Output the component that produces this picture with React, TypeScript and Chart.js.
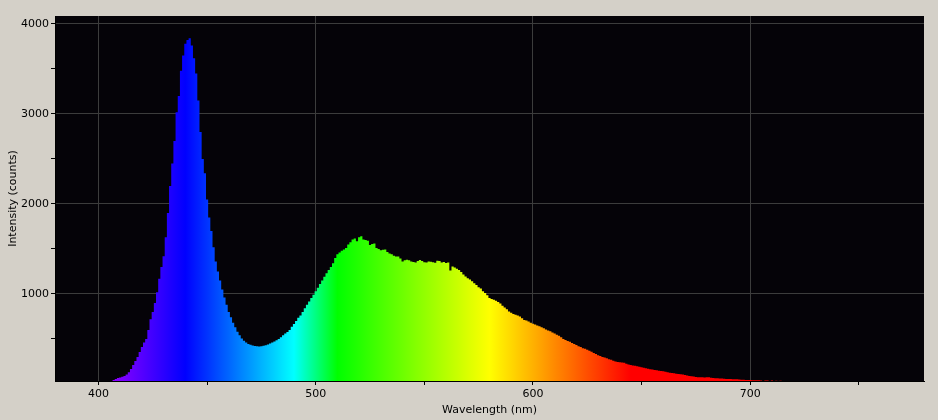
import React, { useEffect, useRef } from "react";
import { Chart, registerables } from "chart.js";

Chart.register(...registerables);

// Spectrum sampled every 1 nm starting at WL_START (nm)
const WL_START = 405;
const intensity: number[] = [
  20, 30, 44, 55, 65, 72, 80, 88, 105, 130,
  165, 210, 255, 300, 355, 410, 460, 500, 600, 720,
  800, 900, 1020, 1170, 1300, 1420, 1630, 1900, 2200, 2450,
  2700, 3020, 3200, 3480, 3650, 3780, 3820, 3840, 3760, 3620,
  3450, 3150, 2800, 2500, 2340, 2050, 1850, 1700, 1520, 1360,
  1250, 1150, 1050, 960, 880, 800, 740, 680, 630, 580,
  540, 505, 480, 460, 445, 435, 428, 422, 418, 415,
  420, 425, 430, 438, 450, 462, 472, 485, 500, 520,
  542, 560, 578, 600, 635, 665, 700, 735, 760, 800,
  840, 880, 915, 955, 990, 1030, 1070, 1110, 1150, 1190,
  1230, 1265, 1300, 1340, 1400, 1440, 1460, 1480, 1495, 1510,
  1550, 1575, 1605, 1615, 1585, 1630, 1640, 1605, 1600, 1590,
  1545, 1555, 1560, 1510, 1500, 1485, 1490, 1495, 1465, 1450,
  1440, 1425, 1415, 1415, 1395, 1360, 1375, 1380, 1375, 1360,
  1355, 1350, 1365, 1378, 1365, 1352, 1350, 1360, 1358, 1352,
  1348, 1370, 1365, 1350, 1355, 1345, 1350, 1260, 1305, 1295,
  1280, 1265, 1245, 1215, 1195, 1175, 1160, 1140, 1120, 1100,
  1075, 1060, 1030, 1010, 985, 955, 945, 935, 925, 910,
  895, 870, 850, 830, 805, 790, 778, 770, 760, 750,
  730, 712, 705, 695, 680, 668, 660, 650, 642, 630,
  620, 605, 595, 585, 572, 562, 548, 535, 518, 500,
  488, 478, 468, 455, 445, 432, 420, 410, 398, 390,
  380, 370, 358, 345, 332, 320, 312, 300, 295, 285,
  275, 268, 258, 250, 244, 240, 238, 237, 225, 216,
  210, 205, 202, 196, 190, 185, 180, 175, 168, 163,
  160, 156, 152, 148, 145, 140, 136, 130, 125, 122,
  118, 114, 111, 108, 104, 100, 95, 89, 85, 82,
  78, 75, 74, 74, 73, 74, 74, 70, 66, 64,
  63, 62, 60, 58, 56, 55, 54, 53, 52, 52,
  51, 48, 46, 45, 44, 43, 42, 41, 40, 40,
  39, 30, 39, 38, 25, 38, 30, 37, 20, 37, 20,
];

const xMajorTicks = [400, 500, 600, 700];
const xAllTicks = [400, 450, 500, 550, 600, 650, 700, 750];
const yMajorTicks = [1000, 2000, 3000, 4000];
const yAllTicks = [500, 1000, 1500, 2000, 2500, 3000, 3500, 4000];

const X_MIN = 380;
const X_MAX = 780;
const Y_MIN = 33;
const Y_MAX = 4088;

const FONT = { family: "'DejaVu Sans', sans-serif", size: 11 };

function wlColor(w: number): string {
  let r = 0, g = 0, b = 0;
  if (w < 440) { r = (440 - w) / 60; b = 1; }
  else if (w < 490) { g = (w - 440) / 50; b = 1; }
  else if (w < 510) { g = 1; b = (510 - w) / 20; }
  else if (w < 580) { r = (w - 510) / 70; g = 1; }
  else if (w < 645) { r = 1; g = (645 - w) / 65; }
  else { r = 1; }
  const c = (v: number) => Math.round(Math.max(0, Math.min(1, v)) * 255);
  return `rgb(${c(r)},${c(g)},${c(b)})`;
}

const plotBg = {
  id: "plotBg",
  beforeDraw(chart: any) {
    const { ctx, chartArea } = chart;
    if (!chartArea) return;
    ctx.save();
    ctx.fillStyle = "#050308";
    ctx.fillRect(chartArea.left, chartArea.top, chartArea.right - chartArea.left, chartArea.bottom - chartArea.top);
    ctx.restore();
  },
};

export default function App() {
  const ref = useRef<HTMLCanvasElement | null>(null);

  useEffect(() => {
    if (!ref.current) return;
    const points = intensity.map((v, i) => ({ x: WL_START + i, y: v }));
    const chart = new Chart(ref.current, {
      type: "line",
      data: {
        datasets: [
          {
            data: points,
            stepped: "middle",
            fill: "start",
            borderWidth: 0,
            borderColor: "rgba(0,0,0,0)",
            pointRadius: 0,
            backgroundColor: (c: any) => {
              const ch = c.chart;
              const xs = ch.scales.x;
              if (!ch.chartArea || !xs) return "#0000ff";
              const grad = ch.ctx.createLinearGradient(xs.left, 0, xs.right, 0);
              for (let w = X_MIN; w <= X_MAX; w += 5) {
                grad.addColorStop((w - X_MIN) / (X_MAX - X_MIN), wlColor(w));
              }
              return grad;
            },
          },
        ],
      },
      options: {
        responsive: false,
        animation: false,
        layout: { padding: { top: 16, right: 14, left: 0, bottom: 0 } },
        plugins: { legend: { display: false }, tooltip: { enabled: false } },
        scales: {
          x: {
            type: "linear",
            min: X_MIN,
            max: X_MAX,
            z: 1,
            afterFit: (s: any) => { s.height = 39; },
            afterBuildTicks: (s: any) => { s.ticks = xAllTicks.map((v) => ({ value: v })); },
            ticks: {
              color: "#000",
              font: FONT,
              padding: 3,
              maxRotation: 0,
              autoSkip: false,
              callback: (v: any) => (xMajorTicks.includes(Number(v)) ? String(v) : ""),
            },
            grid: {
              color: (c: any) => (c.tick && xMajorTicks.includes(c.tick.value) ? "#3c3c3c" : "rgba(0,0,0,0)"),
              tickColor: "#000",
              tickLength: 4,
              lineWidth: 1,
            },
            border: { display: true, color: "#000" },
            title: { display: true, text: "Wavelength (nm)", color: "#000", font: FONT, padding: { top: 0, bottom: 3 } },
          },
          y: {
            type: "linear",
            min: Y_MIN,
            max: Y_MAX,
            z: 1,
            afterFit: (s: any) => { s.width = 55; },
            afterBuildTicks: (s: any) => { s.ticks = yAllTicks.map((v) => ({ value: v })); },
            ticks: {
              color: "#000",
              font: FONT,
              padding: 2,
              autoSkip: false,
              callback: (v: any) => (yMajorTicks.includes(Number(v)) ? String(v) : ""),
            },
            grid: {
              color: (c: any) => (c.tick && yMajorTicks.includes(c.tick.value) ? "#3c3c3c" : "rgba(0,0,0,0)"),
              tickColor: "#000",
              tickLength: 4,
              lineWidth: 1,
            },
            border: { display: true, color: "#000" },
            title: { display: true, text: "Intensity (counts)", color: "#000", font: FONT, padding: { top: 7, bottom: 0 } },
          },
        },
      },
      plugins: [plotBg],
    } as any);
    return () => chart.destroy();
  }, []);

  return (
    <div style={{ position: "fixed", left: 0, top: 0, width: 938, height: 420, background: "#d4d0c8" }}>
      <canvas ref={ref} width={938} height={420} style={{ display: "block", width: 938, height: 420 }} />
    </div>
  );
}
